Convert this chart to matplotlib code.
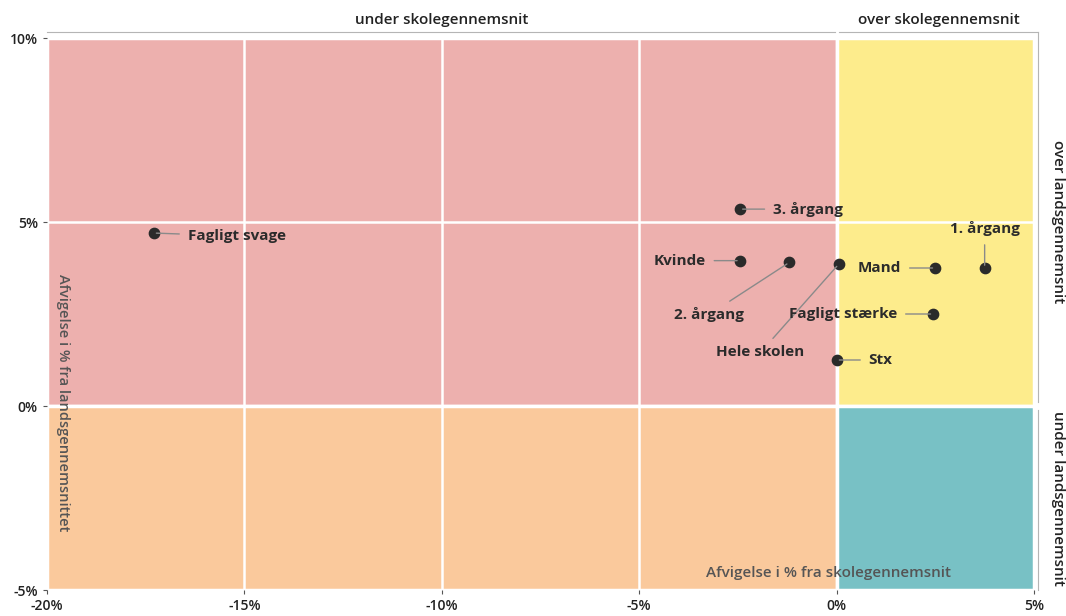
import matplotlib.pyplot as plt
from matplotlib.patches import Rectangle

plt.rcParams['font.family'] = ['Open Sans', 'DejaVu Sans']

# data: deviation from school average (x) and national average (y), in %
labels = ['Fagligt svage', '3. årgang', 'Kvinde', '2. årgang', 'Hele skolen',
          'Mand', '1. årgang', 'Fagligt stærke', 'Stx']
x_vals = [-17.3, -2.45, -2.45, -1.2, 0.05, 2.5, 3.75, 2.45, 0.0]
y_vals = [4.7, 5.35, 3.95, 3.9, 3.85, 3.75, 3.75, 2.5, 1.25]

x_ticks = [-20, -15, -10, -5, 0, 5]
y_ticks = [-5, 0, 5, 10]

# label placement: offset in pixels and alignment
offsets = {
    'Fagligt svage': ((34, -3), 'left'),
    '3. årgang': ((33, 0), 'left'),
    'Kvinde': ((-34, 0), 'right'),
    '2. årgang': ((-80, -52), 'center'),
    'Hele skolen': ((-78, -88), 'center'),
    'Mand': ((-34, 0), 'right'),
    '1. årgang': ((0, 39), 'center'),
    'Fagligt stærke': ((-36, 0), 'right'),
    'Stx': ((32, 0), 'left'),
}

fig = plt.figure(figsize=(10.66, 6.16), dpi=100)
ax = fig.add_axes([47/1066, 26/616, 987/1066, 552/616])
ax.set_xlim(-20, 5)
ax.set_ylim(-5, 10)

quads = [(-20, 0, 20, 10, '#edb0ae'), (0, 0, 5, 10, '#fdec8c'),
         (-20, -5, 20, 5, '#fac99c'), (0, -5, 5, 5, '#78c1c5')]
for x0, y0, w, h, c in quads:
    ax.add_patch(Rectangle((x0, y0), w, h, facecolor=c, edgecolor='white', linewidth=2.5, zorder=0))

for xv in [-15, -10, -5]:
    ax.axvline(xv, color='white', lw=1.8, zorder=1)
ax.axhline(5, color='white', lw=1.8, zorder=1)

for s in ax.spines.values():
    s.set_visible(False)

ax.set_xticks(x_ticks)
ax.set_xticklabels([f'{t}%' for t in x_ticks])
ax.set_yticks(y_ticks)
ax.set_yticklabels([f'{t}%' for t in y_ticks])
ax.tick_params(length=3, width=0.8, color='#555555', labelsize=10, labelcolor='#222222')
for t in ax.get_xticklabels() + ax.get_yticklabels():
    t.set_fontweight('semibold')

ax.scatter(x_vals, y_vals, s=55, color='#2a2a2a', zorder=5)

for lab, xv, yv in zip(labels, x_vals, y_vals):
    (dx, dy), ha = offsets[lab]
    ax.annotate(lab, (xv, yv), xytext=(dx, dy), textcoords='offset pixels',
                ha=ha, va='center', fontsize=11, fontweight='bold', color='#2b2b2b',
                arrowprops=dict(arrowstyle='-', color='#8a8a8a', lw=1.0, shrinkA=4, shrinkB=2),
                zorder=6)

# axis titles inside the plot
ax.text(-0.2, -4.55, 'Afvigelse i % fra skolegennemsnit', ha='center', va='center',
        fontsize=11, color='#555555', fontweight='semibold')
ax.text(-19.6, 0.1, 'Afvigelse i % fra landsgennemsnittet', ha='center', va='center',
        rotation=-90, fontsize=10.5, color='#555555', fontweight='semibold')

# quadrant captions outside the plot
ax.text(-10, 10.5, 'under skolegennemsnit', ha='center', va='center', fontsize=11,
        fontweight='semibold', color='#222222', clip_on=False)
ax.text(2.6, 10.5, 'over skolegennemsnit', ha='center', va='center', fontsize=11,
        fontweight='semibold', color='#222222', clip_on=False)
ax.text(5.6, 5.0, 'over landsgennemsnit', ha='center', va='center', rotation=-90,
        fontsize=11, fontweight='semibold', color='#222222', clip_on=False)
ax.text(5.6, -2.5, 'under landsgennemsnit', ha='center', va='center', rotation=-90,
        fontsize=11, fontweight='semibold', color='#222222', clip_on=False)

# thin brackets around the quadrants
bc = '#b5b5b5'
ax.plot([-20, -0.05], [10.15, 10.15], color=bc, lw=0.8, clip_on=False)
ax.plot([0.05, 5.1], [10.15, 10.15], color=bc, lw=0.8, clip_on=False)
ax.plot([5.1, 5.1], [10.15, 0.1], color=bc, lw=0.8, clip_on=False)
ax.plot([5.1, 5.1], [-0.1, -5], color=bc, lw=0.8, clip_on=False)

fig.savefig('out.png', dpi=100)
